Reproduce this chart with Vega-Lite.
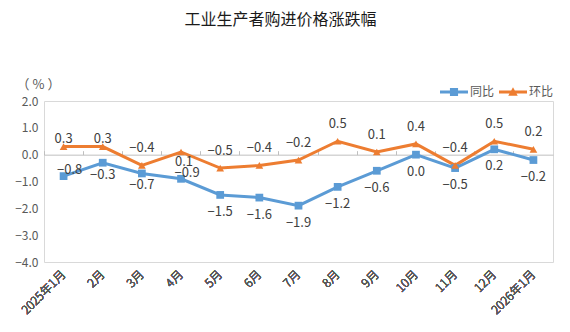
{
  "$schema": "https://vega.github.io/schema/vega-lite/v6.json",
  "width": 509,
  "height": 161,
  "autosize": {"type": "none"},
  "padding": {"left": 44, "top": 101, "right": 17, "bottom": 70},
  "background": "white",
  "title": {
    "text": "工业生产者购进价格涨跌幅",
    "fontSize": 16,
    "font": "Noto Sans CJK SC",
    "fontWeight": "normal",
    "color": "#1a1a1a",
    "anchor": "middle",
    "dx": -18,
    "offset": 50
  },
  "config": {
    "font": "Noto Sans CJK SC",
    "view": {"stroke": "#d9d9d9", "strokeWidth": 1},
    "legend": {"orient": "none", "legendX": 396, "legendY": -23}
  },
  "data": {
    "values": [
      {"month": "2025年1月", "series": "同比", "value": -0.8},
      {"month": "2月", "series": "同比", "value": -0.3},
      {"month": "3月", "series": "同比", "value": -0.7},
      {"month": "4月", "series": "同比", "value": -0.9},
      {"month": "5月", "series": "同比", "value": -1.5},
      {"month": "6月", "series": "同比", "value": -1.6},
      {"month": "7月", "series": "同比", "value": -1.9},
      {"month": "8月", "series": "同比", "value": -1.2},
      {"month": "9月", "series": "同比", "value": -0.6},
      {"month": "10月", "series": "同比", "value": 0.0},
      {"month": "11月", "series": "同比", "value": -0.5},
      {"month": "12月", "series": "同比", "value": 0.2},
      {"month": "2026年1月", "series": "同比", "value": -0.2},
      {"month": "2025年1月", "series": "环比", "value": 0.3},
      {"month": "2月", "series": "环比", "value": 0.3},
      {"month": "3月", "series": "环比", "value": -0.4},
      {"month": "4月", "series": "环比", "value": 0.1},
      {"month": "5月", "series": "环比", "value": -0.5},
      {"month": "6月", "series": "环比", "value": -0.4},
      {"month": "7月", "series": "环比", "value": -0.2},
      {"month": "8月", "series": "环比", "value": 0.5},
      {"month": "9月", "series": "环比", "value": 0.1},
      {"month": "10月", "series": "环比", "value": 0.4},
      {"month": "11月", "series": "环比", "value": -0.4},
      {"month": "12月", "series": "环比", "value": 0.5},
      {"month": "2026年1月", "series": "环比", "value": 0.2}
    ]
  },
  "encoding": {
    "x": {
      "field": "month",
      "type": "nominal",
      "sort": null,
      "scale": {"paddingInner": 0, "paddingOuter": 0},
      "axis": {
        "orient": "bottom",
        "title": null,
        "domain": false,
        "ticks": false,
        "grid": false,
        "labelAngle": -45,
        "labelAlign": "right",
        "labelBaseline": "middle",
        "labelPadding": 10,
        "labelFontSize": 12,
        "labelFontWeight": 300,
        "labelFont": "Noto Sans CJK SC",
        "labelColor": "#595959",
        "zindex": 0
      }
    },
    "y": {
      "field": "value",
      "type": "quantitative",
      "scale": {"domain": [-4, 2], "nice": false},
      "axis": {
        "title": "（ % ）",
        "titleFont": "Noto Sans CJK SC",
        "titleAngle": 0,
        "titleX": -6,
        "titleY": -17,
        "titleAlign": "center",
        "titleBaseline": "middle",
        "titleFontSize": 13,
        "titleFontWeight": "normal",
        "titleColor": "#595959",
        "values": [-4, -3, -2, -1, 0, 1, 2],
        "format": ".1f",
        "domain": false,
        "ticks": false,
        "grid": false,
        "labelPadding": 6,
        "labelFontSize": 12,
        "labelColor": "#595959"
      }
    }
  },
  "layer": [
    {
      "mark": {"type": "rule", "opacity": 0},
      "encoding": {
        "y": {"datum": 0},
        "x": {
          "field": "month",
          "type": "nominal",
          "sort": null,
          "axis": {
            "orient": "top",
            "offset": -53.67,
            "title": null,
            "labels": false,
            "ticks": true,
            "tickSize": 4,
            "tickColor": "#bfbfbf",
            "bandPosition": 0,
            "domain": true,
            "domainColor": "#bfbfbf",
            "domainWidth": 1,
            "grid": false,
            "zindex": 0
          }
        }
      }
    },
    {
      "mark": {"type": "line", "strokeWidth": 3},
      "encoding": {
        "color": {
          "field": "series",
          "type": "nominal",
          "scale": {"domain": ["同比", "环比"], "range": ["#5B9BD5", "#ED7D31"]},
          "legend": {
            "title": null,
            "direction": "horizontal",
            "symbolSize": 784,
            "labelFontSize": 12,
            "labelColor": "#595959",
            "labelOffset": 2,
            "columnPadding": 4,
            "encode": {
              "symbols": {
                "update": {
                  "shape": {"signal": "datum.value === '同比' ? 'M-1,-0.1H1V0.1H-1Z M-0.29,-0.29H0.29V0.29H-0.29Z' : 'M-1,-0.1H1V0.1H-1Z M0,-0.34L0.34,0.26H-0.34Z'"},
                  "fill": {"signal": "datum.value === '同比' ? '#5B9BD5' : '#ED7D31'"},
                  "stroke": {"value": "transparent"},
                  "strokeWidth": {"value": 0},
                  "opacity": {"value": 1}
                }
              }
            }
          }
        }
      }
    },
    {
      "transform": [{"filter": "datum.series === '同比'"}],
      "mark": {"type": "point", "shape": "square", "filled": true, "opacity": 1, "size": 60},
      "encoding": {"color": {"field": "series", "type": "nominal"}}
    },
    {
      "transform": [{"filter": "datum.series === '环比'"}],
      "mark": {"type": "point", "shape": "triangle-up", "filled": true, "opacity": 1, "size": 60},
      "encoding": {"color": {"field": "series", "type": "nominal"}}
    },
    {
      "transform": [{"filter": "datum.series === '环比' && indexof(['2025年1月','2月','4月'], datum.month) < 0"}],
      "mark": {"type": "text", "dy": -17, "fontSize": 13, "color": "#404040"},
      "encoding": {"text": {"field": "value", "format": ".1f"}}
    },
    {
      "transform": [{"filter": "datum.series === '环比' && indexof(['2025年1月','2月'], datum.month) >= 0"}],
      "mark": {"type": "text", "dy": -8, "fontSize": 13, "color": "#404040"},
      "encoding": {"text": {"field": "value", "format": ".1f"}}
    },
    {
      "transform": [{"filter": "datum.series === '环比' && datum.month === '4月'"}],
      "mark": {"type": "text", "dy": 10, "dx": 3, "fontSize": 13, "color": "#404040"},
      "encoding": {"text": {"field": "value", "format": ".1f"}}
    },
    {
      "transform": [{"filter": "datum.series === '同比' && indexof(['2025年1月','2月','3月','4月'], datum.month) < 0"}],
      "mark": {"type": "text", "dy": 17, "fontSize": 13, "color": "#404040"},
      "encoding": {"text": {"field": "value", "format": ".1f"}}
    },
    {
      "transform": [{"filter": "datum.series === '同比' && indexof(['2月','3月'], datum.month) >= 0"}],
      "mark": {"type": "text", "dy": 12, "fontSize": 13, "color": "#404040"},
      "encoding": {"text": {"field": "value", "format": ".1f"}}
    },
    {
      "transform": [{"filter": "datum.series === '同比' && indexof(['2025年1月','4月'], datum.month) >= 0"}],
      "mark": {"type": "text", "dy": -6, "dx": 6, "fontSize": 13, "color": "#404040"},
      "encoding": {"text": {"field": "value", "format": ".1f"}}
    }
  ],
  "resolve": {"axis": {"x": "independent"}}
}
